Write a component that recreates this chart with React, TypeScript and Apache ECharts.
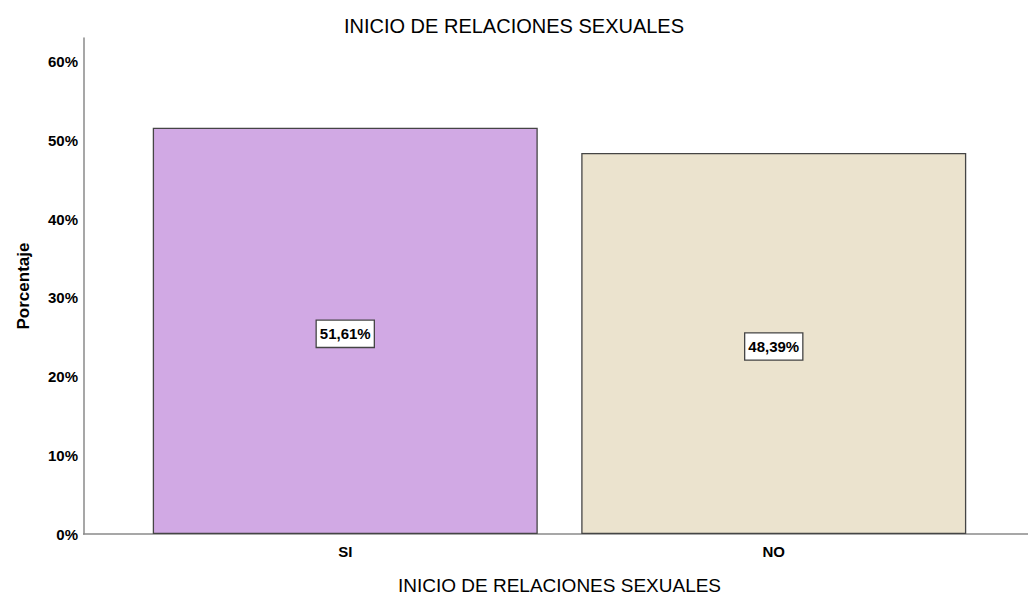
import React, { useEffect, useRef } from "react";
import * as echarts from "echarts";

const categories = ["SI", "NO"];
const percentages = [51.61, 48.39];
const barColors = ["#D1A9E4", "#EBE3CE"];
const yTicks = [0, 10, 20, 30, 40, 50, 60];
const titleText = "INICIO DE RELACIONES SEXUALES";
const xAxisName = "INICIO DE RELACIONES SEXUALES";
const yAxisName = "Porcentaje";

export default function App() {
  const ref = useRef<HTMLDivElement>(null);
  useEffect(() => {
    if (!ref.current) return;
    const chart = echarts.init(ref.current, undefined, { renderer: "svg" });
    const sans = "'Liberation Sans', Arial, sans-serif";
    chart.setOption({
      animation: false,
      backgroundColor: "#ffffff",
      title: {
        text: titleText,
        left: "center",
        top: 11,
        textStyle: { fontFamily: sans, fontSize: 20, fontWeight: "normal", color: "#000" },
      },
      grid: { left: 131, right: 40, top: 38, bottom: 64, containLabel: false, outerBoundsMode: "none" },
      xAxis: {
        type: "category",
        data: categories,
        name: xAxisName,
        nameLocation: "middle",
        nameGap: 42,
        nameTextStyle: { fontFamily: sans, fontSize: 19, color: "#000" },
        axisLine: { show: false },
        axisTick: { show: false },
        axisLabel: { fontFamily: sans, fontSize: 15, fontWeight: "bold", color: "#000", margin: 10 },
      },
      yAxis: {
        type: "value",
        min: 0,
        max: 63,
        interval: 10,
        offset: 47,
        name: yAxisName,
        nameLocation: "middle",
        nameGap: 52,
        nameTextStyle: { fontFamily: sans, fontSize: 17, fontWeight: "bold", color: "#000" },
        axisLine: { show: true, lineStyle: { color: "#8a8a8a", width: 1.5 } },
        axisTick: { show: false },
        splitLine: { show: false },
        axisLabel: {
          fontFamily: sans,
          fontSize: 15,
          fontWeight: "bold",
          color: "#000",
          margin: 6,
          padding: [6, 0, 0, 0],
          formatter: (v: number) => (yTicks.includes(v) ? `${v}%` : ""),
        },
      },
      graphic: [
        {
          type: "line",
          shape: { x1: 83, y1: 534, x2: 1028, y2: 534 },
          style: { stroke: "#8a8a8a", lineWidth: 1.5 },
          z: 1,
        },
      ],
      series: [
        {
          type: "bar",
          barWidth: 385,
          data: percentages.map((v, i) => ({
            value: v,
            itemStyle: { color: barColors[i] },
          })),
          itemStyle: { borderColor: "#454545", borderWidth: 1.3 },
          z: 2,
          label: {
            show: true,
            position: "inside",
            formatter: (p: any) => `${Number(p.value).toFixed(2).replace(".", ",")}%`,
            fontFamily: sans,
            fontSize: 15,
            fontWeight: "bold",
            color: "#000",
            lineHeight: 17,
            backgroundColor: "#ffffff",
            borderColor: "#444",
            borderWidth: 1.3,
            padding: [5, 3, 4, 3],
            offset: [0, 3],
          },
        },
      ],
    });
    return () => chart.dispose();
  }, []);
  return <div ref={ref} style={{ position: "fixed", left: 0, top: 0, width: 1028, height: 598 }} />;
}
